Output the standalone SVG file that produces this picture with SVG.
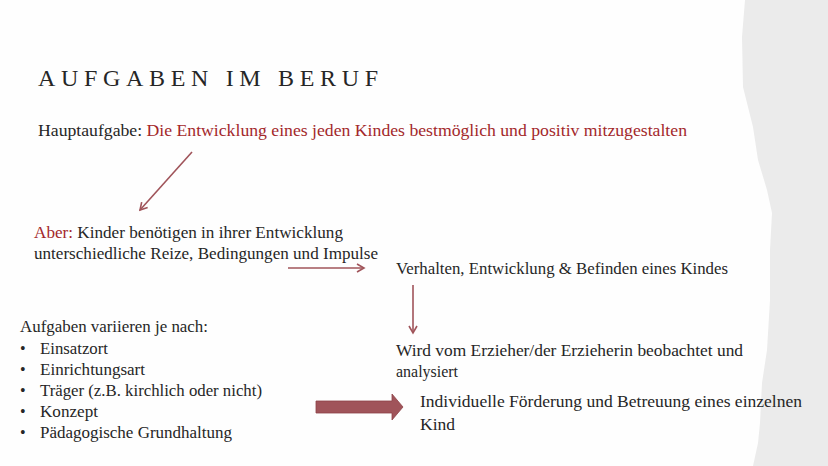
<svg xmlns="http://www.w3.org/2000/svg" width="828" height="466" viewBox="0 0 828 466">
<style>
text{font-family:'Liberation Serif',serif;fill:#262626;font-size:16px;}
.r{fill:#a3282b;}
.ln{stroke:#a0545a;stroke-width:1.6;fill:none;}
</style>
<defs>
<marker id="ah" markerWidth="10" markerHeight="10" refX="8" refY="5" orient="auto" markerUnits="userSpaceOnUse">
<path d="M1,1 L8,5 L1,9" fill="none" stroke="#a0545a" stroke-width="1.6"/>
</marker>
</defs>
<rect width="828" height="466" fill="#fefefe"/>
<path d="M745,0 L742,37 L743,87 L753,127 L758,160 L767,190 L772,213 L770,250 L770,300 L767,350 L762,383 L760,423 L758,443 L753,466 L828,466 L828,0 Z" fill="#ebebeb"/>
<g id="title"><text x="38" y="86" style="font-size:24px" textLength="340" lengthAdjust="spacing">AUFGABEN IM BERUF</text></g>
<g id="haupt"><text x="38" y="136" textLength="649" lengthAdjust="spacingAndGlyphs">Hauptaufgabe: <tspan class="r">Die Entwicklung eines jeden Kindes bestmöglich und positiv mitzugestalten</tspan></text></g>
<g id="aber">
<text x="34" y="238" textLength="309" lengthAdjust="spacingAndGlyphs"><tspan class="r">Aber:</tspan> Kinder benötigen in ihrer Entwicklung</text>
<text x="34" y="259" textLength="344" lengthAdjust="spacingAndGlyphs">unterschiedliche Reize, Bedingungen und Impulse</text>
</g>
<g id="verhalten"><text x="396" y="274" textLength="332" lengthAdjust="spacingAndGlyphs">Verhalten, Entwicklung &amp; Befinden eines Kindes</text></g>
<g id="wird">
<text x="396" y="356" textLength="347" lengthAdjust="spacingAndGlyphs">Wird vom Erzieher/der Erzieherin beobachtet und</text>
<text x="396" y="377" textLength="62" lengthAdjust="spacingAndGlyphs">analysiert</text>
</g>
<g id="individuell">
<text x="420" y="407" style="font-size:17.5px" textLength="382" lengthAdjust="spacingAndGlyphs">Individuelle Förderung und Betreuung eines einzelnen</text>
<text x="420" y="430" style="font-size:17.5px">Kind</text>
</g>
<g id="aufgaben">
<text x="20" y="332" textLength="188" lengthAdjust="spacingAndGlyphs">Aufgaben variieren je nach:</text>
<text x="20" y="354">•</text><text x="40" y="354" textLength="68" lengthAdjust="spacingAndGlyphs">Einsatzort</text>
<text x="20" y="375">•</text><text x="40" y="375" textLength="105" lengthAdjust="spacingAndGlyphs">Einrichtungsart</text>
<text x="20" y="396">•</text><text x="40" y="396" textLength="222" lengthAdjust="spacingAndGlyphs">Träger (z.B. kirchlich oder nicht)</text>
<text x="20" y="417">•</text><text x="40" y="417" textLength="58" lengthAdjust="spacingAndGlyphs">Konzept</text>
<text x="20" y="438">•</text><text x="40" y="438" textLength="192" lengthAdjust="spacingAndGlyphs">Pädagogische Grundhaltung</text>
</g>
<g id="connectors">
<line class="ln" x1="192" y1="152" x2="140" y2="210" marker-end="url(#ah)"/>
<line class="ln" x1="288" y1="268" x2="364" y2="268" marker-end="url(#ah)"/>
<line class="ln" x1="413" y1="285" x2="413" y2="333" marker-end="url(#ah)"/>
<path d="M316,401 L392,401 L392,394 L403,407 L392,420 L392,413 L316,413 Z" fill="#a0545a" stroke="#8e4348" stroke-width="0.8"/>
</g>
</svg>
